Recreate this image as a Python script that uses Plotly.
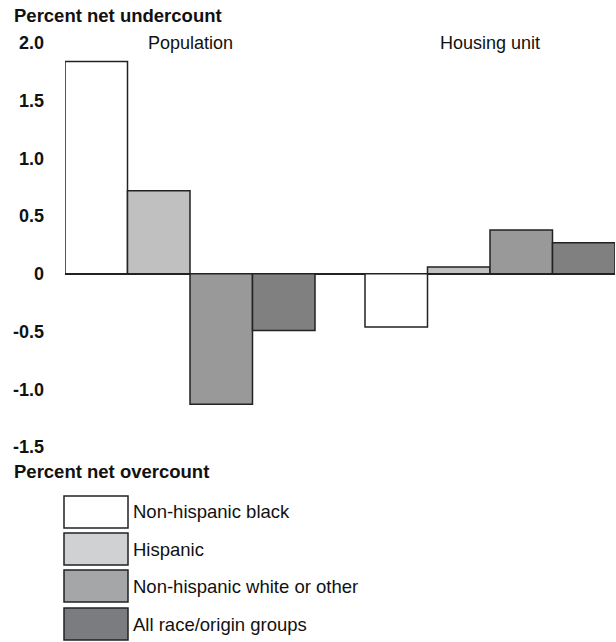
import plotly.graph_objects as go

groups = ["Population", "Housing unit"]
series_names = ["Non-hispanic black", "Hispanic", "Non-hispanic white or other", "All race/origin groups"]
black_vals = [1.84, -0.46]
hispanic_vals = [0.72, 0.06]
white_vals = [-1.13, 0.38]
all_vals = [-0.49, 0.27]
tick_vals = [2.0, 1.5, 1.0, 0.5, 0, -0.5, -1.0, -1.5]
tick_text = ["2.0", "1.5", "1.0", "0.5", "0", "-0.5", "-1.0", "-1.5"]

bar_colors = ["#ffffff", "#c0c0c0", "#989998", "#808080"]
legend_colors = ["#ffffff", "#d0d1d3", "#a5a6a8", "#7b7c7f"]

FONT = "Liberation Sans, Arial, Helvetica, sans-serif"

W, H = 616, 642
L, R, T, B = 65, 1, 43, 195
pw, ph = W - L - R, H - T - B


def px(x):
    return (x - L) / pw


def py(y):
    return (H - B - y) / ph


fig = go.Figure()
for name, vals, col in zip(series_names, [black_vals, hispanic_vals, white_vals, all_vals], bar_colors):
    fig.add_trace(go.Bar(
        x=[0, 1], y=vals, name=name,
        marker=dict(color=col, line=dict(color="#222222", width=1.5)),
        showlegend=False,
    ))

bargap = 1 / 6
half = (1 - bargap) / 2
fig.update_layout(
    width=W, height=H,
    margin=dict(l=L, r=R, t=T, b=B, pad=0),
    paper_bgcolor="white", plot_bgcolor="white",
    barmode="group", bargap=bargap, bargroupgap=0,
    font=dict(family=FONT, size=18, color="#111111"),
    xaxis=dict(range=[-half, 1 + half], showticklabels=False, showgrid=False,
               zeroline=False, showline=False, ticks=""),
    yaxis=dict(range=[-1.5, 2.0], tickvals=tick_vals, ticktext=tick_text,
               tickfont=dict(family=FONT, size=18, color="#111111", weight="bold"),
               showgrid=False, zeroline=True, zerolinecolor="#222222", zerolinewidth=1.5,
               showline=False, ticks="", ticklabelstandoff=20),
)

# group labels
for i, g in enumerate(groups):
    fig.add_annotation(x=i, y=2.0, xref="x", yref="y", text=g, showarrow=False,
                       font=dict(family=FONT, size=18, color="#111111"),
                       yanchor="middle", xanchor="center")

fig.add_annotation(x=px(12), y=py(16), xref="paper", yref="paper", text="<b>Percent net undercount</b>",
                   showarrow=False, xanchor="left", yanchor="middle",
                   font=dict(family=FONT, size=18.5, color="#111111"))
fig.add_annotation(x=px(12), y=py(471), xref="paper", yref="paper", text="<b>Percent net overcount</b>",
                   showarrow=False, xanchor="left", yanchor="middle",
                   font=dict(family=FONT, size=18.5, color="#111111"))

# legend
box_tops = [496, 533, 570, 608]
for name, col, top in zip(series_names, legend_colors, box_tops):
    fig.add_shape(type="rect", xref="paper", yref="paper",
                  x0=px(64), x1=px(128), y0=py(top), y1=py(top + 32),
                  fillcolor=col, line=dict(color="#222222", width=1.5))
    fig.add_annotation(x=px(131), y=py(top + 16), xref="paper", yref="paper", text=name,
                       showarrow=False, xanchor="left", yanchor="middle",
                       font=dict(family=FONT, size=18.5, color="#111111"))

fig.write_html(
    "out.html",
    config={"displayModeBar": False},
    post_script="document.body.style.margin='0';document.documentElement.style.overflow='hidden';document.body.style.overflow='hidden';",
)
